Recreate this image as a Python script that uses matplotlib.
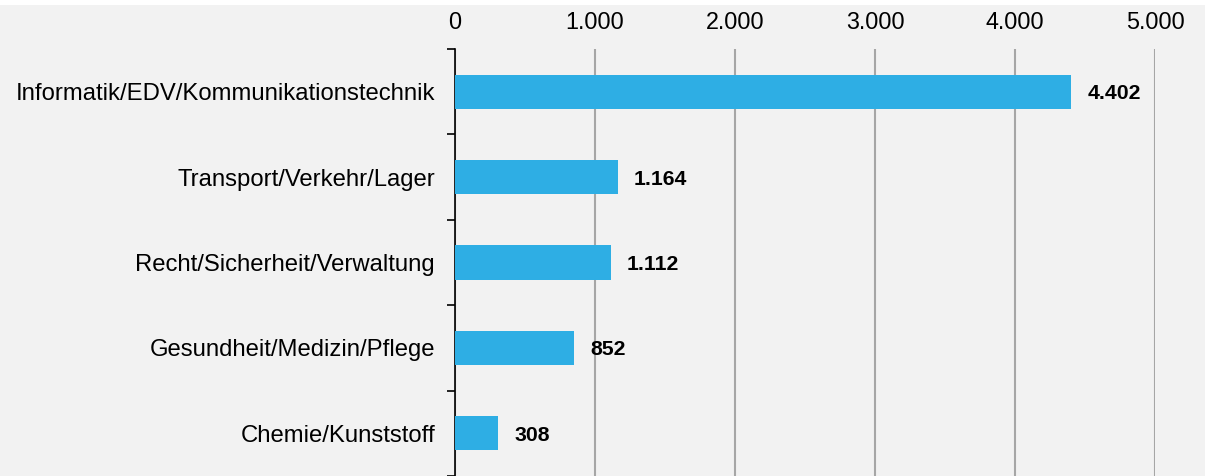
import matplotlib
matplotlib.use("Agg")
import matplotlib.pyplot as plt
from matplotlib.patches import Rectangle

categories = ["Informatik/EDV/Kommunikationstechnik", "Transport/Verkehr/Lager",
              "Recht/Sicherheit/Verwaltung", "Gesundheit/Medizin/Pflege", "Chemie/Kunststoff"]
values = [4402, 1164, 1112, 852, 308]
xticks = [0, 1000, 2000, 3000, 4000, 5000]
xticklabels = ["0", "1.000", "2.000", "3.000", "4.000", "5.000"]

def fmt(v):
    return f"{v:,}".replace(",", ".")

plt.rcParams['font.family'] = ['Liberation Sans', 'DejaVu Sans']
bg = "#f2f2f2"
fig = plt.figure(figsize=(12.05, 4.76), dpi=100, facecolor=bg)
fig.patches.append(Rectangle((0, 1 - 5/476), 1, 5/476, transform=fig.transFigure,
                             facecolor="white", edgecolor="none", zorder=-1))
ax = fig.add_axes([455/1205, 0, 700/1205, 427/476])
ax.set_facecolor(bg)

y = list(range(len(categories)))
ax.barh(y, values, height=0.4, color="#2eaee4", zorder=3)
for yi, v in zip(y, values):
    ax.annotate(fmt(v), (v, yi), xytext=(11.5, -1.5), textcoords="offset points",
                ha="left", va="center", fontsize=15.3, fontweight="bold", color="black")

ax.set_xlim(0, 5000)
ax.set_ylim(len(categories) - 0.5, -0.5)
ax.xaxis.tick_top()
ax.set_xticks(xticks)
ax.set_xticklabels(xticklabels, fontsize=16.8)
ax.tick_params(axis="x", length=0, pad=10.5)
ax.grid(axis="x", color="#a6a6a6", linewidth=1.5, zorder=0)

ax.set_yticks([i - 0.5 for i in range(len(categories) + 1)])
ax.set_yticklabels([])
ax.set_yticks(y, minor=True)
ax.set_yticklabels(categories, minor=True, fontsize=17.2)
ax.tick_params(axis="y", which="major", length=6, width=1.2, color="black")
ax.tick_params(axis="y", which="minor", length=0, pad=14.4)

for s in ["top", "right", "bottom"]:
    ax.spines[s].set_visible(False)
ax.spines["left"].set_color("black")
ax.spines["left"].set_linewidth(1.2)

fig.savefig("out.png", dpi=100, facecolor=bg)
